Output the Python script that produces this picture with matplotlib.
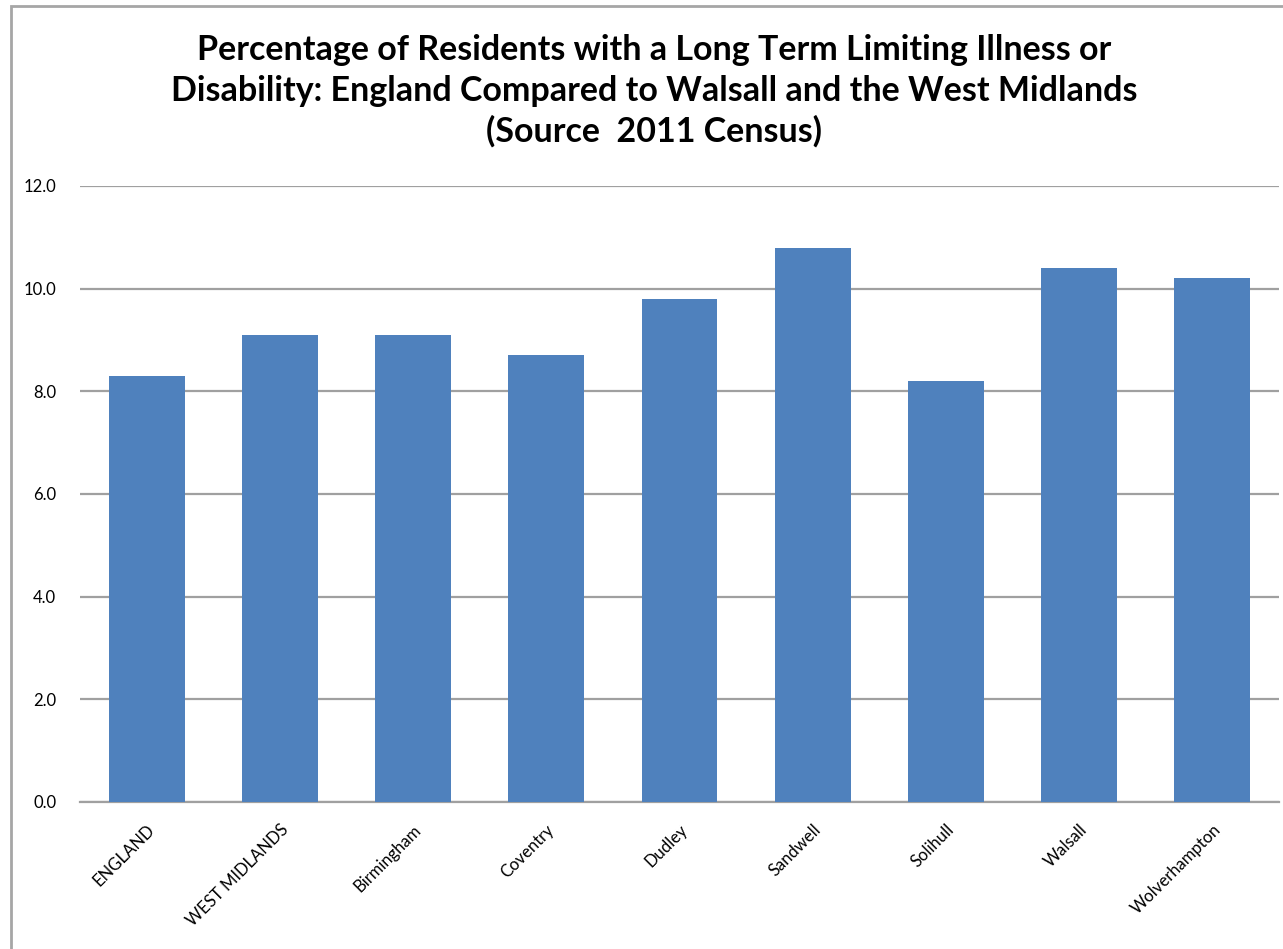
import matplotlib.pyplot as plt
from matplotlib.patches import Rectangle

# ---------------- Data ----------------

areas = ["ENGLAND", "WEST MIDLANDS", "Birmingham", "Coventry", "Dudley",
         "Sandwell", "Solihull", "Walsall", "Wolverhampton"]
pct_limiting = [8.3, 9.1, 9.1, 8.7, 9.8, 10.8, 8.2, 10.4, 10.2]
y_ticks = [0.0, 2.0, 4.0, 6.0, 8.0, 10.0, 12.0]

title = ("Percentage of Residents with a Long Term Limiting Illness or\n"
         "Disability: England Compared to Walsall and the West Midlands\n"
         "(Source  2011 Census)")

plt.rcParams["font.family"] = ["Lato", "DejaVu Sans"]

# ---------------- Plot ----------------

fig = plt.figure(figsize=(12.83, 9.49), dpi=100)
fig.patch.set_facecolor("white")

# chart frame
fig.add_artist(Rectangle((11 / 1283, -0.1), 1.2, 1 - 6 / 949 + 0.1,
                         transform=fig.transFigure, fill=False,
                         edgecolor="#a6a6a6", linewidth=2))

ax = fig.add_axes([80 / 1283, 1 - 802 / 949, 1199 / 1283, 616 / 949])

x = range(len(areas))
ax.bar(x, pct_limiting, width=0.57, color="#4f81bd", zorder=3)

ax.set_xlim(-0.5, len(areas) - 0.5)
ax.set_ylim(0, 12)
ax.set_yticks(y_ticks)
ax.set_yticklabels([f"{v:.1f}" for v in y_ticks], fontsize=12)
ax.set_xticks(list(x))
ax.set_xticklabels(areas, rotation=45, ha="right", rotation_mode="anchor",
                   fontsize=12)

ax.grid(axis="y", color="#a0a0a0", linewidth=1.6, zorder=0)
for side in ["top", "right", "left"]:
    ax.spines[side].set_visible(False)
ax.spines["bottom"].set_color("#a0a0a0")
ax.spines["bottom"].set_linewidth(1.6)
ax.tick_params(axis="both", length=0)
ax.tick_params(axis="y", pad=17)
ax.tick_params(axis="x", pad=14)

fig.text(0.51, 1 - 91 / 949, title, ha="center", va="center",
         fontsize=24.5, fontweight="bold", linespacing=1.33)

plt.savefig("out.png", dpi=100)
